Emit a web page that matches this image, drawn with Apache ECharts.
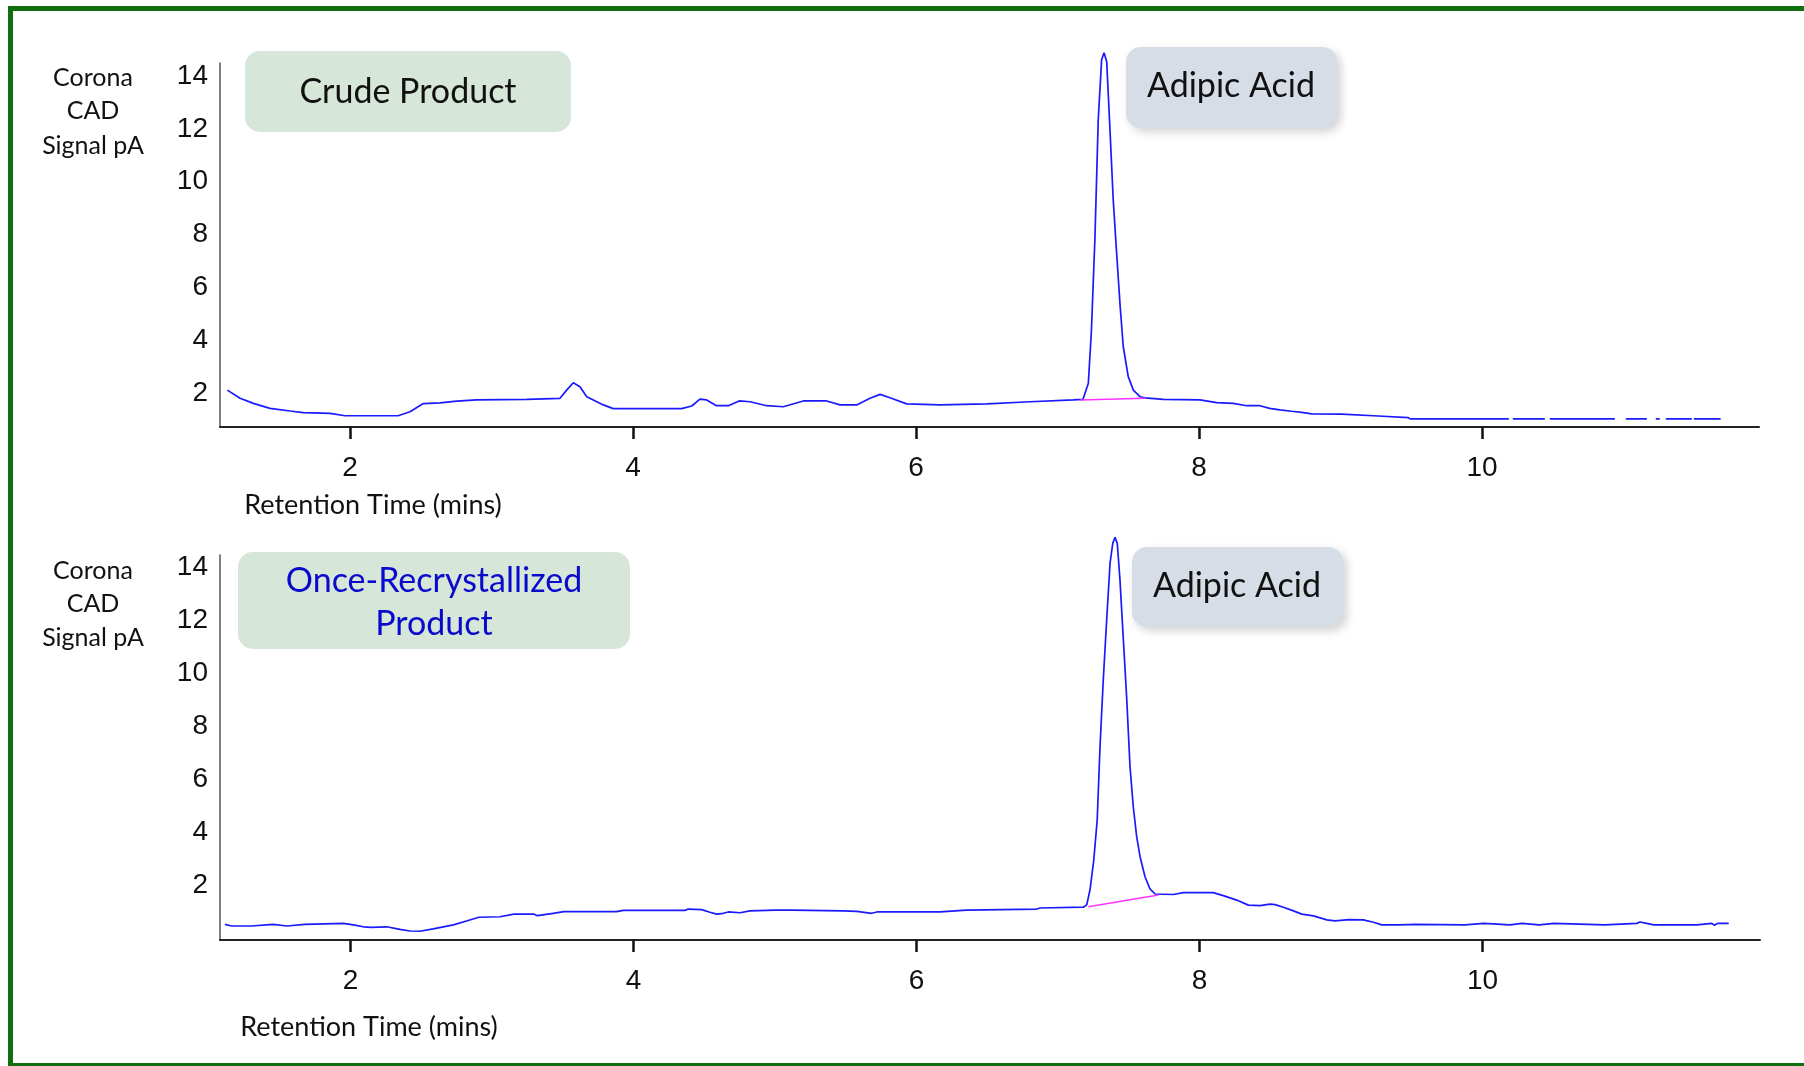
<!DOCTYPE html>
<html>
<head>
<meta charset="utf-8">
<script src="https://cdn.jsdelivr.net/npm/echarts@6/dist/echarts.min.js"></script>
<style>
    html, body { margin: 0; padding: 0; background: #fff; }
    #chart { width: 1804px; height: 1066px; }
</style>
</head>
<body>
<div id="chart"></div>
<script>
// Crude product trace (retention time in mins, CAD signal in pA)
const crudeTime = [1.133, 1.223, 1.317, 1.435, 1.576, 1.67, 1.859, 1.965, 2.34, 2.424, 2.518, 2.636, 2.754, 2.895,
    3.249, 3.484, 3.531, 3.578, 3.625, 3.673, 3.79, 3.86, 4.344, 4.415, 4.473, 4.52, 4.59, 4.674, 4.75, 4.827,
    4.945, 5.062, 5.204, 5.369, 5.463, 5.581, 5.675, 5.746, 5.816, 5.934, 6.17, 6.5, 6.806, 7.112, 7.18, 7.218,
    7.24, 7.265, 7.288, 7.312, 7.329, 7.348, 7.371, 7.394, 7.418, 7.443, 7.465, 7.5, 7.536, 7.583, 7.618, 7.748,
    8.007, 8.125, 8.242, 8.337, 8.43, 8.5, 8.572, 8.655, 8.726, 8.796, 9.008, 9.02, 9.267, 9.279, 9.479, 9.49];
const crudeSignal = [2.12, 1.81, 1.62, 1.43, 1.33, 1.27, 1.24, 1.15, 1.15, 1.30, 1.61, 1.64, 1.70, 1.75,
    1.77, 1.81, 2.12, 2.40, 2.25, 1.87, 1.56, 1.42, 1.42, 1.52, 1.78, 1.75, 1.53, 1.53, 1.71, 1.68,
    1.53, 1.49, 1.71, 1.71, 1.56, 1.56, 1.81, 1.96, 1.83, 1.60, 1.56, 1.60, 1.68, 1.75, 1.77, 2.38,
    4.39, 7.92, 12.34, 14.61, 14.88, 14.54, 11.96, 9.31, 7.30, 5.28, 3.76, 2.63, 2.12, 1.87, 1.83, 1.77,
    1.75, 1.65, 1.62, 1.53, 1.53, 1.43, 1.37, 1.32, 1.28, 1.22, 1.21, 1.14, 1.14, 1.08, 1.08, 1.03];
// broken tail at the end of the crude trace
const crudeTailTime = [9.49, 11.687];
const crudeTailSignal = [1.03, 1.03];
// integration baseline under the adipic acid peak
const crudeBaseTime = [7.16, 7.618];
const crudeBaseSignal = [1.75, 1.81];

// Once-recrystallized product trace
const recrysTime = [1.113, 1.16, 1.30, 1.313, 1.454, 1.466, 1.55, 1.56, 1.678, 1.69, 1.949, 2.02, 2.09, 2.15,
    2.256, 2.35, 2.42, 2.49, 2.585, 2.727, 2.82, 2.907, 3.057, 3.154, 3.295, 3.32, 3.433, 3.507, 3.778, 3.79,
    3.88, 3.93, 4.364, 4.387, 4.482, 4.54, 4.588, 4.634, 4.67, 4.753, 4.823, 5.0, 5.12, 5.13, 5.48, 5.578,
    5.683, 5.72, 6.166, 6.354, 6.85, 6.873, 7.179, 7.203, 7.226, 7.253, 7.277, 7.297, 7.32, 7.344, 7.368,
    7.387, 7.403, 7.419, 7.438, 7.462, 7.485, 7.509, 7.532, 7.556, 7.58, 7.615, 7.65, 7.686, 7.815, 7.886,
    8.097, 8.168, 8.263, 8.345, 8.428, 8.498, 8.534, 8.593, 8.664, 8.723, 8.805, 8.9, 8.958, 9.055, 9.157,
    9.23, 9.288, 9.41, 9.42, 9.525, 9.535, 9.876, 9.888, 10.01, 10.017, 10.194, 10.206, 10.28, 10.288,
    10.40, 10.406, 10.505, 10.512, 10.866, 10.877, 11.09, 11.113, 11.16, 11.21, 11.516, 11.53, 11.62,
    11.64, 11.66, 11.74];
const recrysSignal = [0.51, 0.45, 0.45, 0.51, 0.51, 0.45, 0.45, 0.51, 0.51, 0.55, 0.55, 0.49, 0.42, 0.40,
    0.42, 0.32, 0.26, 0.25, 0.34, 0.49, 0.64, 0.78, 0.80, 0.90, 0.90, 0.84, 0.93, 0.99, 0.99, 1.03,
    0.99, 1.04, 1.04, 1.09, 1.07, 0.97, 0.90, 0.93, 0.98, 0.95, 1.02, 1.05, 1.05, 1.02, 1.02, 1.00,
    0.93, 0.98, 0.98, 1.05, 1.09, 1.13, 1.16, 1.25, 1.81, 2.95, 4.46, 7.23, 9.75, 12.02, 14.17,
    14.92, 15.15, 14.92, 13.54, 11.27, 9.12, 6.47, 4.96, 3.83, 3.07, 2.31, 1.85, 1.66, 1.64, 1.71,
    1.71, 1.60, 1.43, 1.24, 1.22, 1.28, 1.26, 1.16, 1.02, 0.90, 0.83, 0.68, 0.64, 0.69, 0.68,
    0.59, 0.49, 0.49, 0.55, 0.51, 0.49, 0.49, 0.55, 0.55, 0.49, 0.49, 0.55, 0.55, 0.49,
    0.49, 0.55, 0.55, 0.49, 0.49, 0.55, 0.55, 0.60, 0.55, 0.49, 0.49, 0.55, 0.55,
    0.48, 0.55, 0.55];
const recrysBaseTime = [7.214, 7.71];
const recrysBaseSignal = [1.18, 1.62];

// axis ticks
const timeTicks = [2, 4, 6, 8, 10];
const signalTicks = [2, 4, 6, 8, 10, 12, 14];

const TRACE = '#1a1aff';
const BASE = '#ff33ff';
const LABEL_FONT = 'Lato, "Open Sans", sans-serif';
const NUM_FONT = '"Liberation Sans", Arial, sans-serif';

const zip = (xs, ys) => xs.map((x, i) => [x, ys[i]]);

function timeAxis(gridIndex, min, max) {
    return {
        gridIndex: gridIndex,
        type: 'value',
        min: min,
        max: max,
        splitLine: { show: false },
        axisLine: { onZero: false, lineStyle: { color: '#222', width: 2 } },
        axisTick: { show: true, length: 12, customValues: timeTicks, lineStyle: { color: '#111', width: 2.5 } },
        axisLabel: { customValues: timeTicks, margin: 27, fontSize: 28, fontFamily: NUM_FONT, color: '#111' }
    };
}

function signalAxis(gridIndex, min, max) {
    return {
        gridIndex: gridIndex,
        type: 'value',
        min: min,
        max: max,
        splitLine: { show: false },
        axisLine: { show: true, onZero: false, lineStyle: { color: '#555', width: 1.5 } },
        axisTick: { show: false },
        axisLabel: { customValues: signalTicks, margin: 12, fontSize: 28, fontFamily: NUM_FONT, color: '#111' }
    };
}

function trace(idx, data, style) {
    return {
        type: 'line',
        xAxisIndex: idx,
        yAxisIndex: idx,
        data: data,
        showSymbol: false,
        clip: false,
        silent: true,
        lineStyle: style
    };
}

function textAt(x, y, text, size, color) {
    return {
        type: 'text',
        x: x,
        y: y,
        style: {
            text: text,
            fontSize: size,
            fontFamily: LABEL_FONT,
            fill: color || '#111',
            align: 'center',
            verticalAlign: 'middle',
            lineHeight: size > 30 ? 43 : 34
        }
    };
}

function box(x, y, w, h, fill, shadow) {
    const style = { fill: fill };
    if (shadow) {
        style.shadowBlur = 10;
        style.shadowOffsetX = 4;
        style.shadowOffsetY = 4;
        style.shadowColor = 'rgba(0,0,0,0.18)';
    }
    return { type: 'rect', shape: { x: x, y: y, width: w, height: h, r: 15 }, style: style };
}

const chart = echarts.init(document.getElementById('chart'));

chart.setOption({
    animation: false,
    backgroundColor: '#fff',
    grid: [
        { left: 220, top: 63, width: 1539, height: 364 },
        { left: 220, top: 555, width: 1540, height: 385 }
    ],
    xAxis: [timeAxis(0, 1.081, 11.958), timeAxis(1, 1.078, 11.961)],
    yAxis: [signalAxis(0, 0.725, 14.49), signalAxis(1, -0.08, 14.48)],
    series: [
        trace(0, zip(crudeTime, crudeSignal), { color: TRACE, width: 1.7 }),
        trace(0, zip(crudeTailTime, crudeTailSignal), { color: TRACE, width: 1.7, type: [99, 4, 32, 5, 65, 11, 21, 9, 4, 6, 26, 2, 30] }),
        trace(0, zip(crudeBaseTime, crudeBaseSignal), { color: BASE, width: 1.5 }),
        trace(1, zip(recrysTime, recrysSignal), { color: TRACE, width: 1.7 }),
        trace(1, zip(recrysBaseTime, recrysBaseSignal), { color: BASE, width: 1.5 })
    ],
    graphic: [
        // green frame
        { type: 'rect', shape: { x: 10.5, y: 8.5, width: 1810, height: 1057 }, style: { fill: null, stroke: '#107010', lineWidth: 5 } },

        // y axis titles
        textAt(93, 78, 'Corona', 25),
        textAt(93, 111, 'CAD', 25),
        textAt(93, 146, 'Signal pA', 25),
        textAt(93, 571, 'Corona', 25),
        textAt(93, 604, 'CAD', 25),
        textAt(93, 638, 'Signal pA', 25),

        // x axis titles
        textAt(373, 505, 'Retention Time (mins)', 27),
        textAt(369, 1027, 'Retention Time (mins)', 27),

        // sample boxes
        box(245, 51, 326, 81, '#d6e6d8', false),
        textAt(408, 92, 'Crude Product', 34),
        box(238, 552, 392, 97, '#d6e6d8', false),
        textAt(434, 603, 'Once-Recrystallized\nProduct', 34, '#0a0acc'),

        // peak labels
        box(1126, 47, 211, 81, '#d6dde6', true),
        textAt(1231, 86, 'Adipic Acid', 34),
        box(1132, 547, 211, 80, '#d6dde6', true),
        textAt(1237, 586, 'Adipic Acid', 34)
    ]
});
</script>
</body>
</html>
